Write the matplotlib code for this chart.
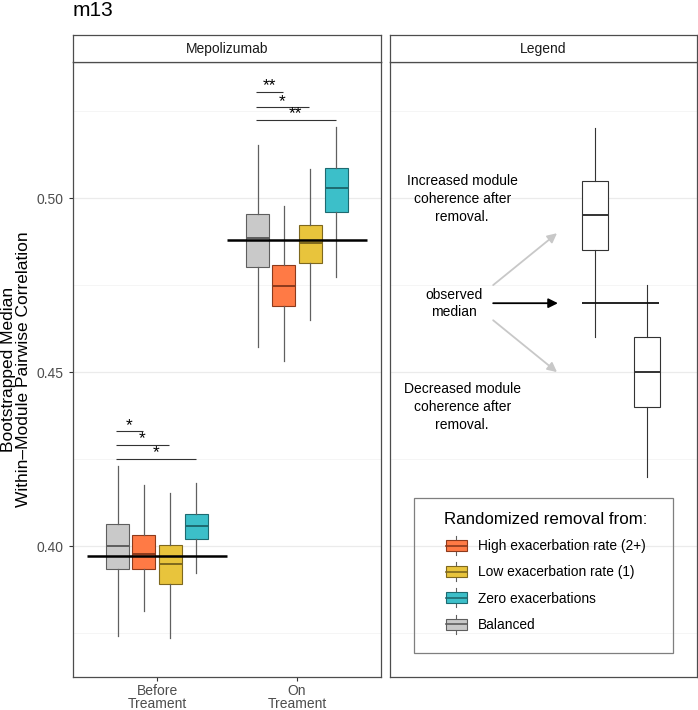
import numpy as np
import matplotlib
matplotlib.use('Agg')
import matplotlib.pyplot as plt
from matplotlib.patches import Rectangle, Patch
from matplotlib.lines import Line2D
from matplotlib.legend_handler import HandlerBase

plt.rcParams['font.family'] = ['Liberation Sans', 'DejaVu Sans']

# Groups on the x axis and the four removal conditions
groups = ['Before\nTreament', 'On\nTreament']
conditions = ['Balanced', 'High exacerbation rate (2+)',
              'Low exacerbation rate (1)', 'Zero exacerbations']
fill_colors = ['#C9C9C9', '#FF7A45', '#E8C43C', '#3CBFC9']
edge_colors = ['#5E5E5E', '#8C3A1C', '#7E681E', '#1E6A70']
whisker_color = '#606060'

# Box statistics, rows follow conditions, columns follow groups
whisker_low = [[0.3741, 0.4572], [0.3813, 0.4532], [0.3736, 0.4649], [0.3922, 0.4773]]
box_low = [[0.3934, 0.4802], [0.3934, 0.4690], [0.3891, 0.4813], [0.4020, 0.4960]]
box_median = [[0.4000, 0.4885], [0.3977, 0.4747], [0.3948, 0.4871], [0.4057, 0.5029]]
box_high = [[0.4063, 0.4954], [0.4032, 0.4807], [0.4003, 0.4922], [0.4092, 0.5086]]
whisker_high = [[0.4230, 0.5152], [0.4175, 0.4977], [0.4152, 0.5083], [0.4181, 0.5204]]

observed_median = [0.3971, 0.4879]

# Significance brackets: group, condition compared with Balanced, height, label
sig_group = [0, 0, 0, 1, 1, 1]
sig_target = [1, 2, 3, 1, 2, 3]
sig_height = [0.4330, 0.4290, 0.4250, 0.5305, 0.5261, 0.5224]
sig_label = ['*', '*', '*', '**', '*', '**']

legend_order = [1, 2, 3, 0]

# Schematic "Legend" panel
increase_box = [0.46, 0.485, 0.495, 0.505, 0.52]
decrease_box = [0.42, 0.44, 0.45, 0.46, 0.475]
schematic_median = 0.47

ylim = (0.3624, 0.5391)
major_y = [0.40, 0.45, 0.50]
minor_y = [0.375, 0.425, 0.475, 0.525]
border = '#4D4D4D'

W, H = 698, 710
fig = plt.figure(figsize=(W / 100, H / 100), dpi=100)


def px_axes(x0, y0, x1, y1):
    return fig.add_axes([x0 / W, 1 - y1 / H, (x1 - x0) / W, (y1 - y0) / H])


ax = px_axes(73, 62, 381, 677)
ax2 = px_axes(390, 62, 697, 677)

for a in (ax, ax2):
    a.set_ylim(*ylim)
    a.set_yticks(major_y)
    a.set_yticks(minor_y, minor=True)
    a.grid(True, axis='y', which='major', color='#EBEBEB', lw=0.9)
    a.grid(True, axis='y', which='minor', color='#F4F4F4', lw=0.6)
    a.set_axisbelow(True)
    for s in a.spines.values():
        s.set_color(border)
        s.set_linewidth(0.9)

# --- main panel ---
offsets = (np.arange(len(conditions)) - 1.5) * 0.1875
centers = np.arange(1, len(groups) + 1)
for ci, cond in enumerate(conditions):
    stats = []
    for gi in range(len(groups)):
        stats.append(dict(whislo=whisker_low[ci][gi], q1=box_low[ci][gi],
                          med=box_median[ci][gi], q3=box_high[ci][gi],
                          whishi=whisker_high[ci][gi]))
    ax.bxp(stats, positions=centers + offsets[ci], widths=0.165,
           patch_artist=True, showfliers=False, showcaps=False,
           boxprops=dict(facecolor=fill_colors[ci], edgecolor=edge_colors[ci], lw=0.8),
           whiskerprops=dict(color=whisker_color, lw=0.9),
           medianprops=dict(color=edge_colors[ci], lw=1.4),
           manage_ticks=False, zorder=3)

for gi, m in enumerate(observed_median):
    ax.hlines(m, centers[gi] - 0.5, centers[gi] + 0.5, color='black', lw=1.8, zorder=4)

for g, t, h, lab in zip(sig_group, sig_target, sig_height, sig_label):
    x0 = centers[g] + offsets[0] - 0.015
    x1 = centers[g] + offsets[t] - 0.005
    ax.hlines(h, x0, x1, color='#333333', lw=0.8)
    ax.text((x0 + x1) / 2, h - 0.0004, lab, ha='center', va='bottom', fontsize=12.5)

ax.set_xlim(0.4, 2.6)
ax.set_xticks(centers)
ax.set_xticklabels(groups, fontsize=10, color='#4D4D4D', linespacing=0.9)
ax.tick_params(axis='both', which='major', length=3, color='#333333', width=0.8,
               labelsize=10, labelcolor='#4D4D4D')
ax.tick_params(axis='x', which='major', pad=2)
ax.tick_params(axis='y', which='minor', length=0)
ax.set_yticklabels(['%.2f' % v for v in major_y])
ax.set_ylabel('Bootstrapped Median\nWithin\u2013Module Pairwise Correlation',
              fontsize=12.5, labelpad=4, linespacing=1.05)

# --- schematic legend panel ---
ax2.set_xlim(0, 1)
ax2.set_xticks([])
ax2.tick_params(axis='y', which='both', length=0, labelleft=False)
schem = [dict(whislo=b[0], q1=b[1], med=b[2], q3=b[3], whishi=b[4])
         for b in (increase_box, decrease_box)]
ax2.bxp(schem, positions=[0.668, 0.837], widths=0.085, patch_artist=True,
        showfliers=False, showcaps=False,
        boxprops=dict(facecolor='white', edgecolor='#333333', lw=0.8),
        whiskerprops=dict(color='#333333', lw=0.8),
        medianprops=dict(color='#333333', lw=1.4), manage_ticks=False, zorder=3)
ax2.hlines(schematic_median, 0.625, 0.876, color='#111111', lw=1.3, zorder=4)

ax2.text(0.235, 0.4997, 'Increased module\ncoherence after\nremoval.', ha='center',
         va='center', fontsize=10, linespacing=1.35)
ax2.text(0.208, 0.4697, 'observed\nmedian', ha='center', va='center', fontsize=10,
         linespacing=1.35)
ax2.text(0.235, 0.4400, 'Decreased module\ncoherence after\nremoval.', ha='center',
         va='center', fontsize=10, linespacing=1.35)

for start, end, col in [((0.336, 0.475), (0.544, 0.4899), '#C8C8C8'),
                        ((0.336, 0.4649), (0.544, 0.4500), '#C8C8C8'),
                        ((0.336, 0.4698), (0.547, 0.4698), 'black')]:
    ax2.annotate('', xy=end, xytext=start,
                 arrowprops=dict(arrowstyle='-|>', color=col, lw=1.3,
                                 mutation_scale=14, shrinkA=0, shrinkB=0))


class BoxKey(HandlerBase):
    def create_artists(self, legend, orig_handle, xdescent, ydescent,
                       width, height, fontsize, trans):
        face = orig_handle.get_facecolor()
        edge = orig_handle.get_edgecolor()
        x0, y0 = -xdescent, -ydescent
        cx = x0 + width / 2
        arts = [
            Line2D([cx, cx], [y0 - height * 0.1, y0 + height * 1.1], color='#606060',
                   lw=0.8, transform=trans),
            Rectangle((x0, y0 + height * 0.15), width, height * 0.7,
                      facecolor=face, edgecolor=edge, lw=0.8, transform=trans),
            Line2D([x0, x0 + width], [y0 + height / 2] * 2, color=edge, lw=1.2,
                   transform=trans),
        ]
        return arts


handles = [Patch(facecolor=fill_colors[i], edgecolor=edge_colors[i]) for i in legend_order]
labels = [conditions[i] for i in legend_order]
ax2.add_patch(Rectangle((0.078, 0.039), 0.844, 0.252, transform=ax2.transAxes,
                        fill=False, edgecolor='#7F7F7F', lw=0.9, zorder=5))
leg = ax2.legend(handles, labels, handler_map={Patch: BoxKey()},
                 title='Randomized removal from:', title_fontsize=12.2,
                 fontsize=9.9, frameon=False, loc='upper left',
                 bbox_to_anchor=(0.153, 0.279), borderpad=0, handlelength=1.53,
                 handleheight=1.4, labelspacing=0.75, handletextpad=0.8)

# --- strips ---
for x0, x1, name in [(73, 381, 'Mepolizumab'), (390, 697, 'Legend')]:
    s = px_axes(x0, 35, x1, 62)
    s.set_xticks([])
    s.set_yticks([])
    for sp in s.spines.values():
        sp.set_color(border)
        sp.set_linewidth(0.9)
    s.text(0.5, 0.5, name, ha='center', va='center', fontsize=10,
           color='#1A1A1A', transform=s.transAxes)

fig.text(73 / W, 1 - 1 / H, 'm13', ha='left', va='top', fontsize=15)

fig.savefig('out.png', dpi=100)
